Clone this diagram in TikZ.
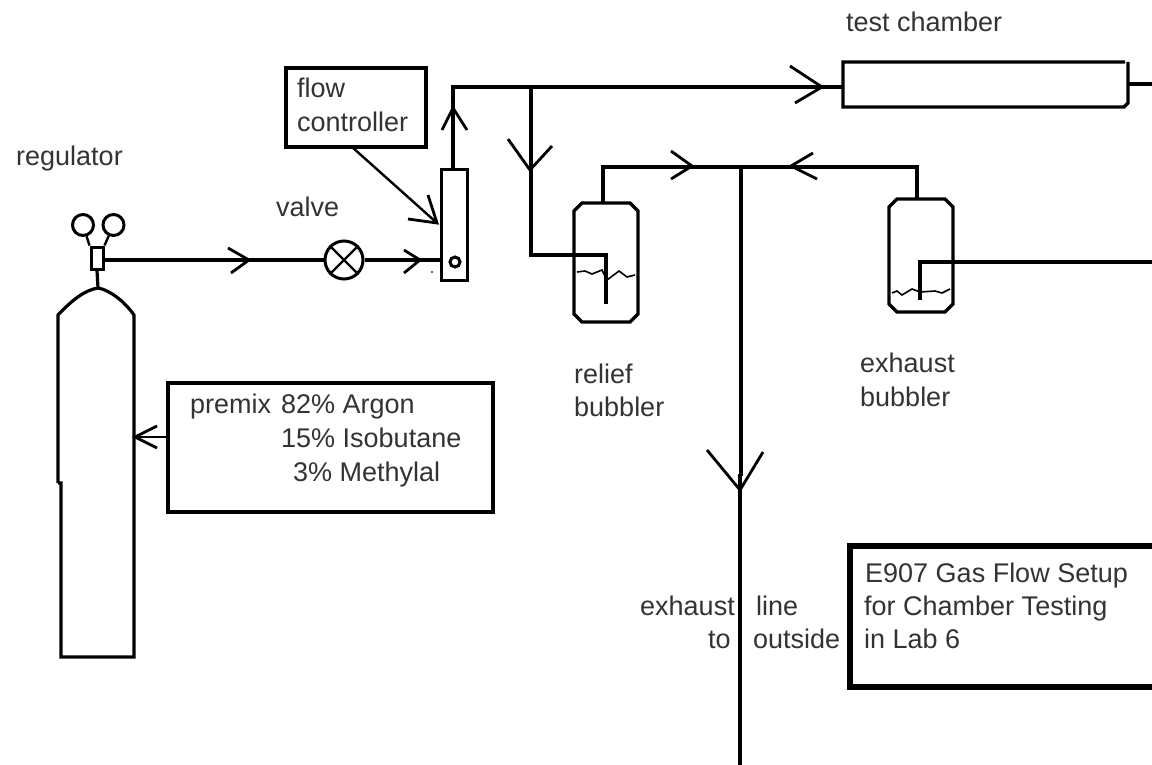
\documentclass[tikz,border=0pt]{standalone}
\usepackage{fontspec}
\setmainfont{Liberation Sans}
\tikzset{
  pipe/.style={draw=black,line width=3.2pt,line join=miter},
  thin pipe/.style={draw=black,line width=2.4pt},
  chev/.style={draw=black,line width=2.8pt,line join=miter},
  lbl/.style={font=\fontsize{27}{30}\selectfont,text=black!80,inner sep=0pt,anchor=base west,align=left},
  water/.style={draw=black,line width=1.6pt}
}
\begin{document}
\begin{tikzpicture}[x=1pt,y=-1pt]
\useasboundingbox[fill=white] (0,0) rectangle (1152,765);
% cylinder
\coordinate (tanktop) at (98,288);
\draw[pipe] (58,483) -- (58,315) .. controls (72,300) and (85,290) .. (tanktop) .. controls (110,290) and (125,302) .. (134,315) -- (134,657) -- (61,657) -- (61,483) -- (58,483);
\node[draw=black,line width=3pt,minimum width=12pt,minimum height=22pt,inner sep=0pt] (reg) at (97,258) {};
\draw[pipe] (tanktop) -- (reg.south);
\node[draw=black,line width=3pt,circle,minimum size=21pt,inner sep=0pt] (d1) at (83,225) {};
\node[draw=black,line width=3pt,circle,minimum size=21pt,inner sep=0pt] (d2) at (113.5,225) {};
\draw[pipe,line width=2.4pt] (d1) -- (reg.north west);
\draw[pipe,line width=2.4pt] (d2) -- (reg.north east);
\node[lbl] at (16,166) {regulator};
\node[lbl] at (276,217) {valve};
% valve
\node[draw=black,line width=3pt,circle,minimum size=38pt,inner sep=0pt] (valve) at (344,260) {};
\draw[pipe,line width=2.4pt] (valve.north west) -- (valve.south east);
\draw[pipe,line width=2.4pt] (valve.north east) -- (valve.south west);
% flow meter
\node[draw=black,line width=3pt,minimum width=26pt,minimum height=110pt,inner sep=0pt] (meter) at (454,225) {};
\node[draw=black,line width=3pt,circle,minimum size=10pt,inner sep=0pt] (ball) at (455,262) {};
\fill[black!80] (432,272) circle (1.2pt);
\draw[pipe] (reg.east |- 0,260) -- (valve.west);
\draw[pipe] (valve.east) -- (meter.west |- 0,260);
\draw[chev] (228,248) -- (249,260) -- (231,273);
\draw[chev] (404,250) -- (420,260) -- (404,273);
% flow controller
\node[draw=black,line width=3.4pt,minimum width=140pt,minimum height=79pt,inner sep=0pt] (fc) at (356,107.5) {};
\node[lbl] at (297,98) {flow};
\node[lbl] at (297,132) {controller};
\coordinate (fctip) at (437,223);
\draw[thin pipe] (352,147) -- (fctip);
\draw[chev] (428,195) -- (fctip) -- (408,219);
% test chamber
\coordinate (chin) at (843,87);
\coordinate (chout) at (1128,84);
\draw[pipe] (1125,62) -- (843,62) -- (843,107) -- (1124,107) -- (1128,103) -- (1128,62);
\node[lbl] at (846,32) {test chamber};
\coordinate (bend) at (453,87);
\draw[pipe] (meter.north -| bend) -- (bend) -- (chin);
\draw[chev] (442,130) -- (453,108) -- (467,130);
\draw[chev] (790,66) -- (822,87) -- (795,103);
\draw[pipe] (chout) -- (1152,84);
% relief bubbler
\draw[pipe] (582,203) -- (630,203) -- (638,211) -- (638,314) -- (630,322) -- (582,322) -- (574,314) -- (574,211) -- cycle;
\coordinate (r1) at (531,87);
\draw[pipe] (r1) -- (531,255) -- (606,255) -- (606,304);
\draw[chev] (508,139) -- (530,170) -- (552,146);
\draw[water] (577,272) -- (585,271) -- (592,274) -- (602,270) -- (607,280) -- (619,271) -- (627,277) -- (635,275);
% exhaust bubbler
\draw[pipe] (897,199) -- (945,199) -- (953,207) -- (953,304) -- (945,312) -- (897,312) -- (889,304) -- (889,207) -- cycle;
\draw[pipe] (1152,262) -- (920,262) -- (920,300);
\draw[water] (892,293) -- (897,291) -- (902,295) -- (912,289) -- (920,292) -- (935,291) -- (942,293) -- (950,289);
% collector
\coordinate (c1) at (741,167);
\draw[pipe] (603,203) -- (603,167) -- (917,167) -- (917,199);
\draw[pipe] (c1) -- (741,476);
\draw[pipe] (740,474) -- (740,765);
\draw[chev] (671,151) -- (692,166) -- (671,179);
\draw[chev] (813,153) -- (791,166) -- (817,179);
\draw[chev] (707,450) -- (740,490) -- (763,452);
% labels
\node[lbl] at (574,383) {relief};
\node[lbl] at (574,416) {bubbler};
\node[lbl] at (860,372) {exhaust};
\node[lbl] at (860,406) {bubbler};
% premix
\node[draw=black,line width=3.4pt,minimum width=325pt,minimum height=129pt,inner sep=0pt] (premix) at (330.5,447.5) {};
\coordinate (tankside) at (135,437);
\draw[thin pipe] (premix.west |- tankside) -- (tankside);
\draw[chev] (157,426) -- (tankside) -- (157,448);
\node[lbl] at (190,413) {premix\hspace{10pt}82\% Argon};
\node[lbl] at (281,447) {15\% Isobutane};
\node[lbl] at (293,481) {3\% Methylal};
% exhaust labels
\node[lbl] at (640,615) {exhaust};
\node[lbl] at (756,615) {line};
\node[lbl] at (708,648) {to};
\node[lbl] at (753,648) {outside};
% title
\node[draw=black,line width=6pt,minimum width=310pt,minimum height=141pt,inner sep=0pt] (title) at (1005,616.5) {};
\node[lbl] at (865,582) {E907 Gas Flow Setup};
\node[lbl] at (864,615) {for Chamber Testing};
\node[lbl] at (864,648) {in Lab 6};
\end{tikzpicture}
\end{document}
